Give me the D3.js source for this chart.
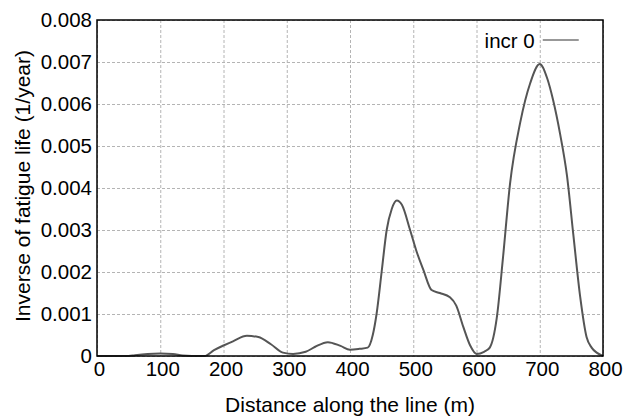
<!DOCTYPE html>
<html>
<head>
<meta charset="utf-8">
<script src="https://cdn.jsdelivr.net/npm/d3@7"></script>
<style>
  body { margin: 0; background: #fff; }
  text { font-family: "Liberation Sans", Arial, sans-serif; fill: #000; }
  .grid line { stroke: #b4b4b4; stroke-width: 1; stroke-dasharray: 3,2; }
  .axis path, .axis line { display: none; }
</style>
</head>
<body>
<div id="chart"></div>
<script>
// distance along the line (m)
const distance = [0, 50, 60, 80, 100, 120, 135, 150, 170, 185, 200, 215, 237, 255, 275, 294,
  310, 330, 345, 365, 385, 400, 415, 428, 436, 442, 450, 458, 466, 474, 482, 495, 505, 516,
  529, 542, 558, 568, 579, 590, 600, 612, 621, 632, 642, 653, 669, 685, 700, 712, 721, 732,
  743, 753, 764, 774, 782, 790, 800];
// inverse of fatigue life (1/year), incr 0
const incr0 = [0, 0, 0.00002, 0.00005, 0.00006, 0.00005, 0.00001, 0, 0, 0.00014, 0.00025,
  0.00035, 0.00048, 0.00045, 0.00028, 0.00008, 0.00005, 0.0001, 0.00022, 0.00033, 0.00024,
  0.00015, 0.00017, 0.0002, 0.0005, 0.001, 0.002, 0.003, 0.0035, 0.0037, 0.0036, 0.003,
  0.0025, 0.00205, 0.00157, 0.0015, 0.0014, 0.0012, 0.0007, 0.00025, 0.00005, 0.0001, 0.0002,
  0.0009, 0.00236, 0.0041, 0.00555, 0.0065, 0.00695, 0.0066, 0.0061, 0.0053, 0.0043, 0.0029,
  0.0014, 0.00045, 0.0002, 0.00008, 0];
const xTicks = [0, 100, 200, 300, 400, 500, 600, 700, 800];
const yTicks = [0, 0.001, 0.002, 0.003, 0.004, 0.005, 0.006, 0.007, 0.008];
const seriesName = 'incr 0';

const width = 631, height = 417;
const margin = { top: 20, right: 28, bottom: 61, left: 97 };
const w = width - margin.left - margin.right,
      h = height - margin.top - margin.bottom;

const x = d3.scaleLinear().domain([0, 800]).range([0, w]);
const y = d3.scaleLinear().domain([0, 0.008]).range([h, 0]);

const svg = d3.select('#chart').append('svg')
    .attr('width', width)
    .attr('height', height)
  .append('g')
    .attr('transform', 'translate(' + margin.left + ',' + margin.top + ')');

// grid
svg.append('g')
    .attr('class', 'grid')
    .call(d3.axisBottom(x).tickValues(xTicks).tickSize(h).tickFormat(''))
    .call(g => g.select('.domain').remove());
svg.append('g')
    .attr('class', 'grid')
    .call(d3.axisLeft(y).tickValues(yTicks).tickSize(-w).tickFormat(''))
    .call(g => g.select('.domain').remove());

// line
const line = d3.line()
    .x((d, i) => x(distance[i]))
    .y(d => y(d))
    .curve(d3.curveMonotoneX);

svg.append('path')
    .datum(incr0)
    .attr('fill', 'none')
    .attr('stroke', '#555')
    .attr('stroke-width', 2)
    .attr('d', line);

// frame
svg.append('rect')
    .attr('width', w)
    .attr('height', h)
    .attr('fill', 'none')
    .attr('stroke', '#000')
    .attr('stroke-width', 1.5);

// axes
svg.append('g')
    .attr('class', 'axis')
    .attr('transform', 'translate(0,' + h + ')')
    .call(d3.axisBottom(x).tickValues(xTicks).tickSize(0).tickPadding(5).tickFormat(d3.format('d')))
    .selectAll('text')
    .attr('dx', '2')
    .style('font-size', '20.5px');

svg.append('g')
    .attr('class', 'axis')
    .call(d3.axisLeft(y).tickValues(yTicks).tickSize(0).tickPadding(5)
      .tickFormat(d => d === 0 ? '0' : d3.format('.3f')(d)))
    .selectAll('text')
    .style('font-size', '20.5px');

// axis titles
svg.append('text')
    .attr('x', w / 2)
    .attr('y', h + 56)
    .attr('text-anchor', 'middle')
    .style('font-size', '21px')
    .text('Distance along the line (m)');

svg.append('text')
    .attr('transform', 'rotate(-90)')
    .attr('x', -h / 2 + 2)
    .attr('y', -67)
    .attr('text-anchor', 'middle')
    .style('font-size', '21px')
    .text('Inverse of fatigue life (1/year)');

// legend
const legend = svg.append('g')
    .attr('transform', 'translate(' + (x(700) - 5) + ',28)');
legend.append('text')
    .attr('x', 0)
    .attr('y', 0)
    .attr('text-anchor', 'end')
    .style('font-size', '20.5px')
    .text(seriesName);
legend.append('line')
    .attr('x1', 8).attr('x2', 44)
    .attr('y1', -8).attr('y2', -8)
    .attr('stroke', '#333')
    .attr('stroke-width', 1.2);
</script>
</body>
</html>
